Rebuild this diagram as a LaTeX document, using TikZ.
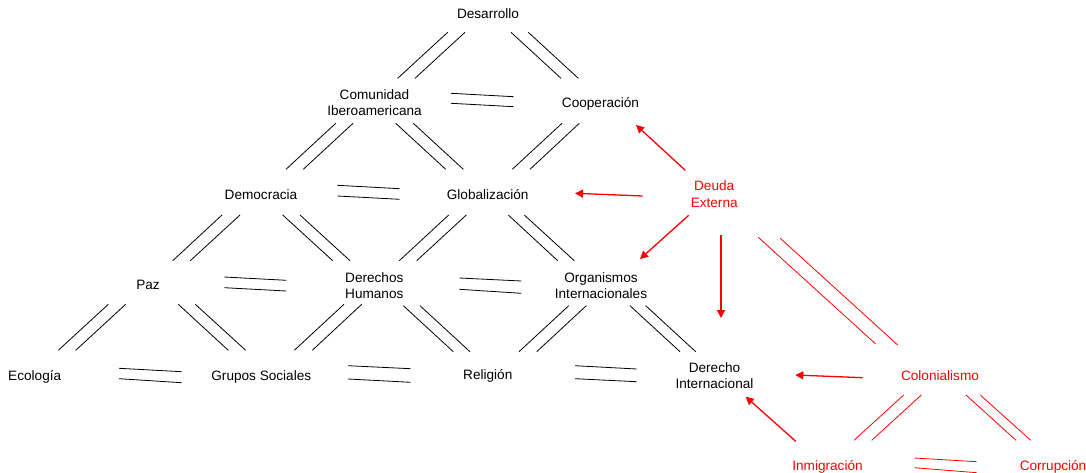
\documentclass[tikz,border=0pt]{standalone}
\usepackage{fontspec}
\setmainfont{Liberation Sans}
\usetikzlibrary{arrows.meta}
\begin{document}
\begin{tikzpicture}[x=1pt,y=-1pt,
  concept/.style={align=center,inner sep=0pt,yshift=-1.5pt,font=\fontsize{13.6}{16.6}\selectfont},
  redconcept/.style={concept,text=red},
  link/.style={draw=black,line width=0.8pt},
  redlink/.style={draw=red,line width=0.8pt},
  cause/.style={draw=red,line width=1.3pt,-{Triangle[length=8pt,width=8pt]}}]
\useasboundingbox (0,0) rectangle (1086,473);

% concepts
\node[concept] (desarrollo) at (488,12) {Desarrollo};
\node[concept] (comunidad) at (374.5,101) {Comunidad\\Iberoamericana};
\node[concept] (cooperacion) at (600.5,102.7) {Cooperación};
\node[concept] (democracia) at (261,192.7) {Democracia};
\node[concept] (globalizacion) at (487.7,192.7) {Globalización};
\node[concept] (paz) at (148,283.3) {Paz};
\node[concept] (derechos) at (374.3,284) {Derechos\\Humanos};
\node[concept] (organismos) at (601,284) {Organismos\\Internacionales};
\node[concept] (ecologia) at (34.7,375) {Ecología};
\node[concept] (grupos) at (261.3,375) {Grupos Sociales};
\node[concept] (religion) at (487.8,374.3) {Religión};
\node[concept] (derecho) at (714.5,374) {Derecho\\Internacional};
\node[redconcept] (deuda) at (714.2,192.5) {Deuda\\Externa};
\node[redconcept] (colonialismo) at (940,374) {Colonialismo};
\node[redconcept] (inmigracion) at (827.5,465) {Inmigración};
\node[redconcept] (corrupcion) at (1053,465) {Corrupción};

% paired links between neighbouring concepts
\foreach \ax/\ay/\bx/\by/\cx/\cy/\dx/\dy in {
  447.7/32.3/397.7/78.3/465/32.3/415/78.3,           % desarrollo - comunidad
  511/32.3/561/78.3/528.3/32.3/578.3/78.3,           % desarrollo - cooperacion
  451/93.3/513.7/96.7/451/103.3/513.7/106.7,         % comunidad = cooperacion
  335.7/123.3/286/169.3/353/123.3/303.3/169.3,       % comunidad - democracia
  395.7/123.3/445.7/169.3/413.3/123.3/463.3/169.3,   % comunidad - globalizacion
  562/123.3/512.3/169.3/579.3/123.3/530/169.3,       % cooperacion - globalizacion
  337.3/185.3/399.7/188.7/337.3/196/399.7/199.3,     % democracia = globalizacion
  222/215/172.7/260.7/240/215/190.3/260.7,           % democracia - paz
  282.7/215/332.7/260.7/300/215/350/260.7,           % democracia - derechos
  448.7/215/399.3/260.7/466.3/215/416.7/260.7,       % globalizacion - derechos
  508.3/215/557.7/260.7/524.3/215/574.3/260.7,       % globalizacion - organismos
  224.3/277/286.3/280.3/224.3/287.7/286.3/291,       % paz = derechos
  459.3/278/521.3/281/459.3/289.3/521.3/293.3,       % derechos = organismos
  108.3/304.3/58.3/350.3/125.7/304.3/75.7/350.3,     % paz - ecologia
  178.3/304.3/228.3/350.3/195.3/304.3/245.7/350.3,   % paz - grupos
  344/304.3/294.3/350.3/361.7/304.3/312.3/350.3,     % derechos - grupos
  403.3/305.7/453.3/351.7/420/305.7/470/351.7,       % derechos - religion
  568.7/305.7/519/351.7/586.3/305.7/536.7/351.7,     % organismos - religion
  630/305.7/680/351.7/645.7/305.7/695.7/351.7,       % organismos - derecho
  119/368.3/181.7/371.7/119/378.7/181.7/382.7,       % ecologia = grupos
  348/365.7/410.7/368.7/348/379/410.7/382.3,         % grupos = religion
  575/365.7/636.7/369/575/378.7/636.7/381.7}         % religion = derecho
{
  \draw[link] (\ax,\ay) -- (\bx,\by);
  \draw[link] (\cx,\cy) -- (\dx,\dy);
}

\foreach \ax/\ay/\bx/\by/\cx/\cy/\dx/\dy in {
  758.3/237.3/875.7/344/780.3/238.3/897.7/345,       % deuda - colonialismo
  903.7/395/854/440.3/921.3/395/871.7/440.3,         % colonialismo - inmigracion
  966/395/1016/440.3/980.3/395/1030.7/440.3,         % colonialismo - corrupcion
  914.3/458/976.7/461.7/914.3/467.7/976.7/472.7}     % inmigracion = corrupcion
{
  \draw[redlink] (\ax,\ay) -- (\bx,\by);
  \draw[redlink] (\cx,\cy) -- (\dx,\dy);
}

% causal arrows
\draw[cause] (685.3,170.3) -- (636,125);      % deuda -> cooperacion
\draw[cause] (642.7,196) -- (575,193.3);      % deuda -> globalizacion
\draw[cause] (688.7,215.3) -- (640,259);      % deuda -> organismos
\draw[cause] (721,235) -- (721,318);          % deuda -> derecho
\draw[cause] (862.7,377.7) -- (795.3,375);    % colonialismo -> derecho
\draw[cause] (795.7,441.3) -- (745.7,396.7);  % inmigracion -> derecho
\end{tikzpicture}
\end{document}
